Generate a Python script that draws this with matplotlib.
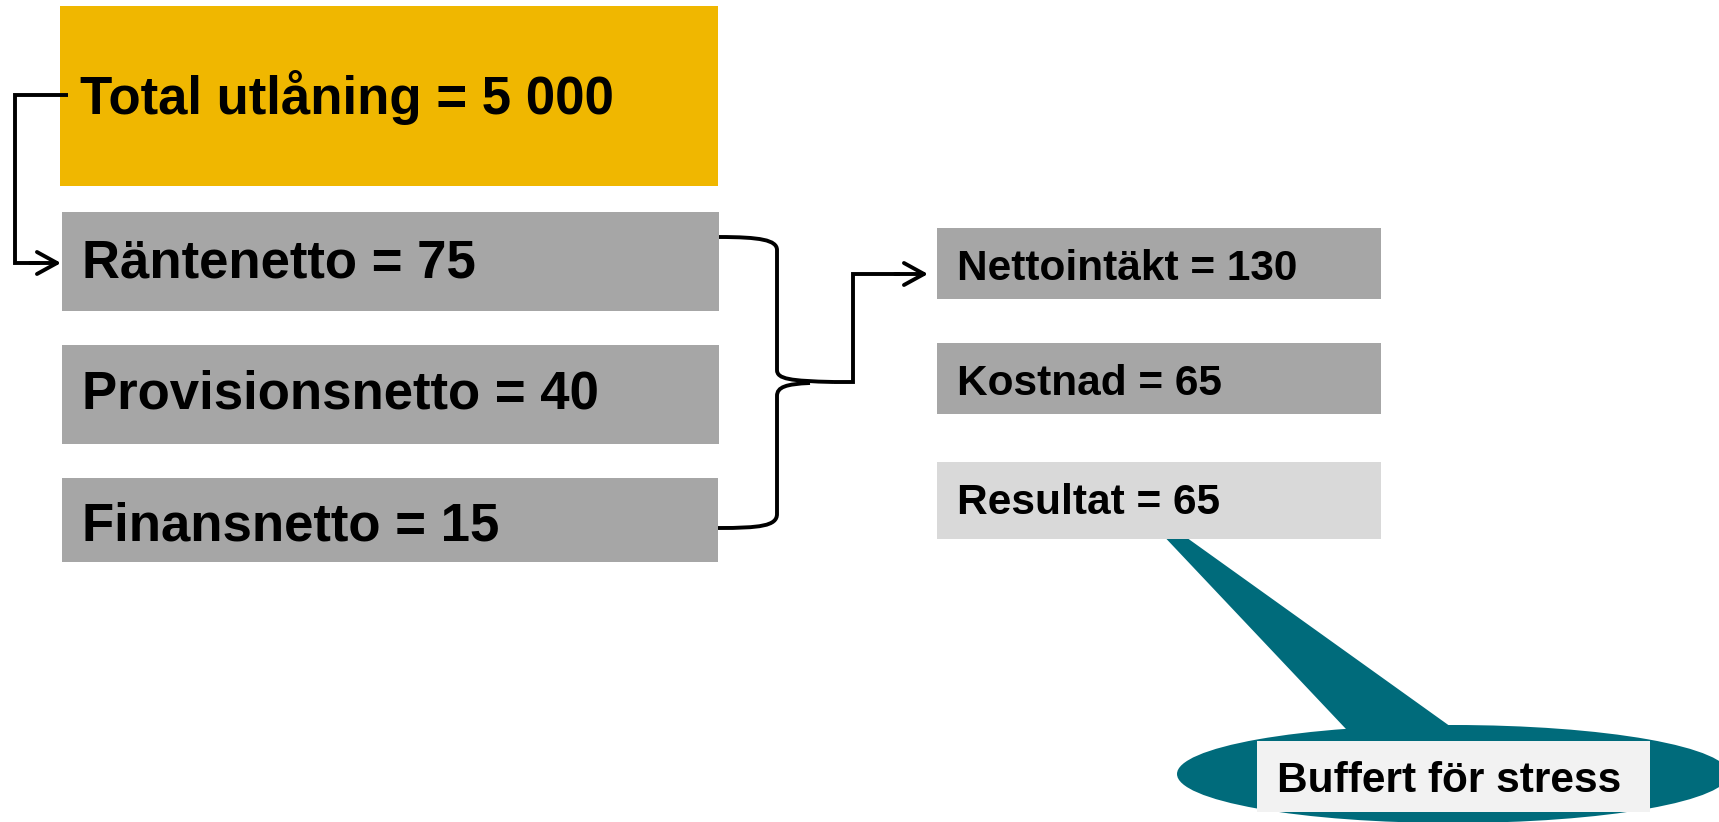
import matplotlib.pyplot as plt
from matplotlib.patches import Rectangle, Ellipse, Polygon, PathPatch
from matplotlib.path import Path

plt.rcParams["font.family"] = ["Liberation Sans", "DejaVu Sans"]

# data
total_label = "Total utlåning"
total_value = 5000
left_labels = ["Räntenetto", "Provisionsnetto", "Finansnetto"]
left_values = [75, 40, 15]
right_labels = ["Nettointäkt", "Kostnad", "Resultat"]
right_values = [130, 65, 65]
callout_text = "Buffert för stress"

# layout (pixel coordinates, y down)
W, H = 1719, 822
LEFT_BOXES = [(62, 212, 657, 99), (62, 345, 657, 99), (62, 478, 656, 84)]
LEFT_BASE = [277, 408, 540]
RIGHT_BOXES = [(937, 228, 444, 71), (937, 343, 444, 71), (937, 462, 444, 77)]
RIGHT_BASE = [280, 395, 514]
RIGHT_COLORS = ["#a6a6a6", "#a6a6a6", "#d9d9d9"]

YELLOW = "#f0b700"
GREY = "#a6a6a6"
TEAL = "#006b7b"
LW = 2.8
ARROW = dict(arrowstyle="->, head_length=0.4, head_width=0.22", lw=LW, color="black",
             mutation_scale=36, shrinkA=0, shrinkB=0)

fig = plt.figure(figsize=(W / 100, H / 100), dpi=100)
ax = fig.add_axes([0, 0, 1, 1])
ax.set_xlim(0, W)
ax.set_ylim(H, 0)
ax.axis("off")

# callout (drawn first so the Resultat box covers the tail)
ax.add_patch(Polygon([(1158, 530), (1176, 530), (1500, 762), (1380, 765)],
                     closed=True, facecolor=TEAL, edgecolor="none", zorder=1))
ax.add_patch(Ellipse((1453, 774), 552, 98, facecolor=TEAL, edgecolor="none", zorder=1))
ax.add_patch(Rectangle((1257, 741), 393, 71, facecolor="#f2f2f2", edgecolor="none", zorder=2))
ax.text(1277, 792, callout_text, fontsize=30.5, fontweight="bold", va="baseline", zorder=3)

# total box
ax.add_patch(Rectangle((60, 6), 658, 180, facecolor=YELLOW, edgecolor="none", zorder=2))
ax.text(80, 114, f"{total_label} = {total_value:,}".replace(",", " "),
        fontsize=38, fontweight="bold", va="baseline", zorder=3)

for (x, y, w, h), base, lab, val in zip(LEFT_BOXES, LEFT_BASE, left_labels, left_values):
    ax.add_patch(Rectangle((x, y), w, h, facecolor=GREY, edgecolor="none", zorder=2))
    ax.text(x + 20, base, f"{lab} = {val}", fontsize=38, fontweight="bold",
            va="baseline", zorder=3)

for (x, y, w, h), base, col, lab, val in zip(RIGHT_BOXES, RIGHT_BASE, RIGHT_COLORS,
                                              right_labels, right_values):
    ax.add_patch(Rectangle((x, y), w, h, facecolor=col, edgecolor="none", zorder=2))
    ax.text(x + 20, base, f"{lab} = {val}", fontsize=30.5, fontweight="bold",
            va="baseline", zorder=3)

# connector from total to Räntenetto
ax.plot([68, 15, 15, 40], [95, 95, 263, 263], color="black", lw=LW,
        solid_capstyle="butt", solid_joinstyle="miter", zorder=4)
ax.annotate("", xy=(61, 263), xytext=(30, 263), arrowprops=ARROW, zorder=4)

# curly brace
bx, tip_x, tip_y = 777, 834, 382
verts = [
    (719, 237), (760, 237), (bx, 240), (bx, 250),
    (bx, 370),
    (bx, 379), (790, 381), (tip_x, tip_y),
]
codes = [Path.MOVETO, Path.CURVE4, Path.CURVE4, Path.CURVE4,
         Path.LINETO,
         Path.CURVE4, Path.CURVE4, Path.CURVE4]
ax.add_patch(PathPatch(Path(verts, codes), facecolor="none", edgecolor="black", lw=LW, zorder=4))
verts2 = [
    (810, 383), (786, 384), (bx, 387), (bx, 396),
    (bx, 514),
    (bx, 526), (760, 528), (718, 528),
]
codes2 = [Path.MOVETO, Path.CURVE4, Path.CURVE4, Path.CURVE4,
          Path.LINETO,
          Path.CURVE4, Path.CURVE4, Path.CURVE4]
ax.add_patch(PathPatch(Path(verts2, codes2), facecolor="none", edgecolor="black", lw=LW, zorder=4))

# connector from brace to Nettointäkt
ax.plot([tip_x, 853, 853, 900], [tip_y, tip_y, 274, 274], color="black", lw=LW,
        solid_capstyle="butt", solid_joinstyle="miter", zorder=4)
ax.annotate("", xy=(928, 274), xytext=(895, 274), arrowprops=ARROW, zorder=4)

fig.savefig("out.png", dpi=100, facecolor="white")
